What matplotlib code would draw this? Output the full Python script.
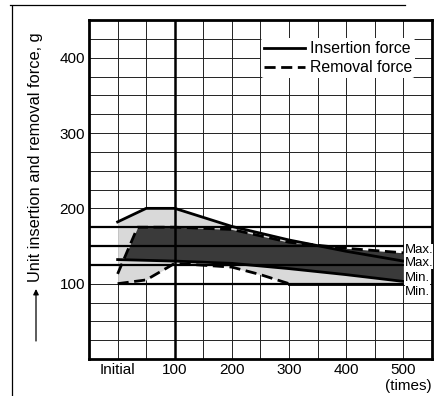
import matplotlib
matplotlib.use("Agg")
import matplotlib.pyplot as plt
import numpy as np
from matplotlib.lines import Line2D

plt.rcParams['font.family'] = ['Liberation Sans', 'DejaVu Sans']

# ---- data ----
x_pts = [0, 50, 100, 200, 300, 400, 500]
ins_max = [182, 200, 200, 176, 158, 143, 130]
ins_min = [132, 131, 130, 127, 120, 112, 103]
rem_max_x = [0, 35, 100, 200, 300, 400, 500]
rem_max = [113, 175, 175, 172, 155, 147, 141]
rem_min_x = [0, 50, 100, 200, 250, 300]
rem_min = [100, 105, 127, 122, 112, 100]
base_x = [300, 500]
base_y = [100, 100]

x_ticks = [0, 100, 200, 300, 400, 500]
x_ticklabels = ['Initial', '100', '200', '300', '400', '500']
y_ticks = [100, 200, 300, 400]
end_labels = ['Max.', 'Max.', 'Min.', 'Min.']
end_label_y = [145, 128, 107, 89]

fig = plt.figure(figsize=(4.43, 3.96), dpi=100)
ax = fig.add_axes([0.201, 0.0934, 0.774, 0.856])
ax.set_xlim(-50, 550)
ax.set_ylim(0, 450)

# grid
for gx in np.arange(0, 551, 50):
    ax.axvline(gx, color='#222222', lw=0.7, zorder=1)
for gy in np.arange(25, 451, 25):
    ax.axhline(gy, color='#222222', lw=0.7, zorder=1)
# bold reference lines
for gy in [125, 150, 175]:
    ax.axhline(gy, color='black', lw=1.6, zorder=2)
ax.hlines(100, 0, 500, color='black', lw=1.6, zorder=2)
ax.axvline(100, color='black', lw=1.8, zorder=2)

# shaded regions
xs = np.linspace(0, 500, 501)
top = np.interp(xs, x_pts, ins_max)
rem_low = np.interp(xs, rem_min_x + base_x, rem_min + base_y)
low = np.minimum(rem_low, np.interp(xs, x_pts, ins_min))
ax.fill_between(xs, low, top, color='#d9d9d9', lw=0, zorder=1.5)
dtop = np.interp(xs, rem_max_x, rem_max)
dlow = np.interp(xs, x_pts, ins_min)
ax.fill_between(xs, dlow, np.maximum(dtop, dlow), color='#3a3a3a', lw=0, zorder=1.6)

# lines
ax.plot(x_pts, ins_max, color='black', lw=2.0, zorder=3, label='Insertion force')
ax.plot(x_pts, ins_min, color='black', lw=2.0, zorder=3)
ax.plot(rem_max_x, rem_max, color='black', lw=2.0, ls=(0, (4, 2)), zorder=3,
        label='Removal force')
ax.plot(rem_min_x, rem_min, color='black', lw=2.0, ls=(0, (4, 2)), zorder=3)
ax.plot(base_x, base_y, color='black', lw=2.0, zorder=3)

for lab, ly in zip(end_labels, end_label_y):
    ax.text(502, ly, lab, fontsize=9.5, ha='left', va='center', zorder=4,
            bbox=dict(facecolor='white', edgecolor='none', pad=0.2))

ax.set_xticks(x_ticks)
ax.set_xticklabels(x_ticklabels, fontsize=11)
ax.set_yticks(y_ticks)
ax.set_yticklabels([str(v) for v in y_ticks], fontsize=11)
ax.tick_params(length=0, pad=3)
ax.text(1.0, -0.058, '(times)', transform=ax.transAxes, ha='right', va='top', fontsize=11)

for s in ax.spines.values():
    s.set_linewidth(2.0)

# y label with arrow
fig.text(36/443, 1 - 157/396, 'Unit insertion and removal force, g', rotation=90,
         ha='center', va='center', fontsize=11.8)
ax.annotate('', xy=(36/443, 1 - 289/396), xytext=(36/443, 1 - 341/396),
            xycoords='figure fraction', textcoords='figure fraction',
            arrowprops=dict(arrowstyle='-|>', color='black', lw=0.9,
                            mutation_scale=8, shrinkA=0, shrinkB=0))

leg = ax.legend(loc='upper right', bbox_to_anchor=(0.975, 0.97), frameon=True, fontsize=11.4,
                handlelength=2.6, handletextpad=0.3, labelspacing=0.25, borderpad=0.2)
leg.get_frame().set_facecolor('white')
leg.get_frame().set_edgecolor('none')
leg.get_frame().set_alpha(1)

# outer frame fragments
fig.add_artist(Line2D([12/443, 12/443], [0, 1 - 6/396], transform=fig.transFigure, color='black', lw=0.9))
fig.add_artist(Line2D([10/443, 405/443], [1 - 5/396, 1 - 5/396], transform=fig.transFigure, color='black', lw=0.9))

fig.savefig('out.png', dpi=100)
